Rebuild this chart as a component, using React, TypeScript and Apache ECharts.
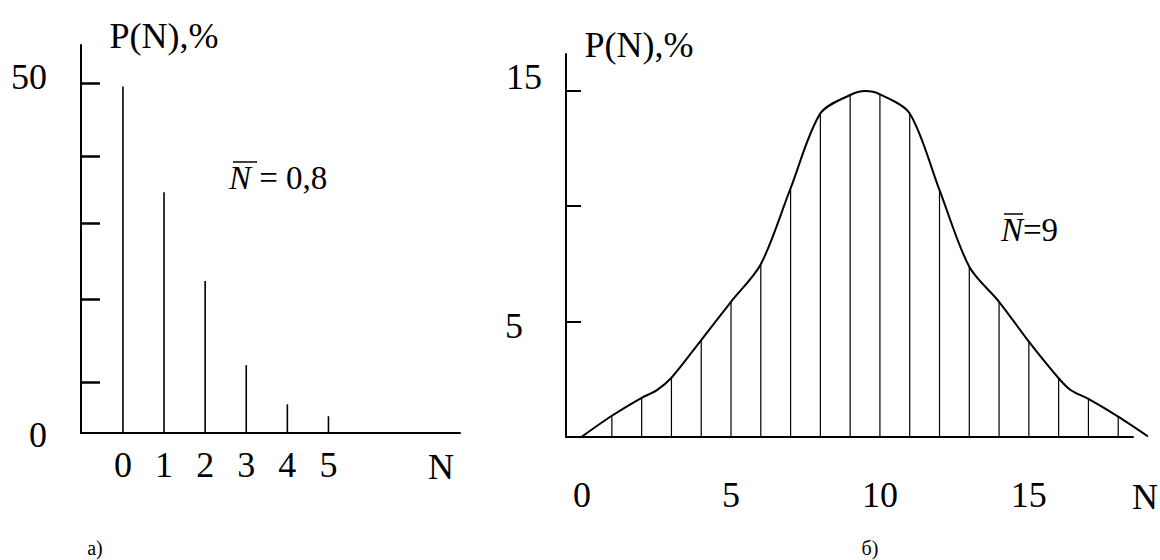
import React, { useEffect, useRef } from "react";
import * as echarts from "echarts";

// ---- Panel а) ----
const leftN = [0, 1, 2, 3, 4, 5];
const leftP = [49.5, 34.4, 21.7, 9.7, 4.1, 2.4];
const leftYTicks = [50, 39.6, 29.9, 19.1, 7.3];
const leftYLabels = [0, 50];
const leftXLabels = [0, 1, 2, 3, 4, 5];

// ---- Panel б) ----
const rightN = [0, 1, 2, 2.5, 3, 4, 5, 6, 7, 8, 9, 9.5, 10, 11, 12, 13, 14, 15, 16, 16.4, 17, 18, 19];
const rightP = [0, 0.9, 1.68, 2.0, 2.55, 4.19, 5.85, 7.48, 10.78, 14.03, 14.83, 15.0, 14.86, 14.03, 10.7, 7.37, 5.85, 4.12, 2.53, 2.02, 1.63, 0.86, 0];
const rightYTicks = [5, 10, 15];
const rightYLabels = [5, 15];
const rightXLabels = [0, 5, 10, 15];

const FONT = '"Liberation Serif", "Times New Roman", serif';
const BLACK = "#000";

export default function App() {
  const ref = useRef<HTMLDivElement>(null);

  useEffect(() => {
    if (!ref.current) return;
    const chart = echarts.init(ref.current, undefined, { renderer: "svg" });

    const leftData = leftN.map((n, i) => [n, leftP[i]]);
    const curveData = rightN.map((n, i) => [n, rightP[i]]);
    const hatchData = curveData.filter((d) => Number.isInteger(d[0]) && d[1] > 0);

    const FS = 36;
    const labelBase = { fontFamily: FONT, fontSize: FS, color: BLACK };
    const axisLineOn = { show: true, onZero: false, lineStyle: { color: BLACK, width: 2 } };

    const option: any = {
      animation: false,
      backgroundColor: "#fff",
      grid: [
        { left: 81, top: 45, width: 379, height: 388 },
        // data grid of panel б) (reaches N = 19)
        { left: 566, top: 54, width: 582, height: 382.5 },
        // axis-line grid of panel б)
        { left: 566, top: 54, width: 567, height: 382.5 },
      ],
      xAxis: [
        {
          gridIndex: 0,
          type: "value",
          min: -1.02,
          max: 8.2,
          axisLine: axisLineOn,
          axisTick: { show: false },
          splitLine: { show: false },
          axisLabel: { ...labelBase, customValues: leftXLabels, margin: 14 },
        },
        {
          gridIndex: 1,
          type: "value",
          min: -0.54,
          max: 19,
          axisLine: { show: false },
          axisTick: { show: false },
          splitLine: { show: false },
          axisLabel: { ...labelBase, customValues: rightXLabels, margin: 40 },
        },
        {
          gridIndex: 2,
          type: "value",
          min: 0,
          max: 1,
          axisLine: axisLineOn,
          axisTick: { show: false },
          splitLine: { show: false },
          axisLabel: { show: false },
        },
      ],
      yAxis: [
        {
          gridIndex: 0,
          type: "value",
          min: 0,
          max: 55.43,
          axisLine: axisLineOn,
          axisTick: {
            show: true,
            inside: true,
            length: 19,
            customValues: leftYTicks,
            lineStyle: { color: BLACK, width: 2.5 },
          },
          splitLine: { show: false },
          axisLabel: {
            ...labelBase,
            customValues: leftYLabels,
            margin: 34,
            formatter: (v: number) => (v === 50 ? "{a|50}" : "{b|0}"),
            rich: {
              a: { ...labelBase, padding: [0, 0, 12, 0] },
              b: { ...labelBase, padding: [4, 0, 0, 0] },
            },
          },
        },
        {
          gridIndex: 1,
          type: "value",
          min: 0,
          max: 16.61,
          axisLine: axisLineOn,
          axisTick: {
            show: true,
            inside: true,
            length: 15,
            customValues: rightYTicks,
            lineStyle: { color: BLACK, width: 2 },
          },
          splitLine: { show: false },
          axisLabel: {
            ...labelBase,
            customValues: rightYLabels,
            margin: 24,
            formatter: (v: number) => (v === 15 ? "{a|15}" : "{b|5}"),
            rich: {
              a: { ...labelBase, padding: [0, 0, 28, 0] },
              b: { ...labelBase, padding: [10, 19, 0, 0] },
            },
          },
        },
        {
          gridIndex: 2,
          type: "value",
          min: 0,
          max: 16.61,
          show: false,
        },
      ],
      series: [
        {
          type: "bar",
          xAxisIndex: 0,
          yAxisIndex: 0,
          data: leftData,
          barWidth: 1.6,
          itemStyle: { color: BLACK },
          silent: true,
        },
        {
          type: "bar",
          xAxisIndex: 1,
          yAxisIndex: 1,
          data: hatchData,
          barWidth: 1.2,
          itemStyle: { color: BLACK },
          silent: true,
        },
        {
          type: "line",
          xAxisIndex: 1,
          yAxisIndex: 1,
          data: curveData,
          smooth: 0.3,
          showSymbol: false,
          clip: false,
          lineStyle: { color: BLACK, width: 2 },
          silent: true,
        },
      ],
      graphic: [
        {
          type: "text",
          x: 164,
          y: 36,
          style: { text: "P(N),%", fontFamily: FONT, fontSize: FS, fill: BLACK, align: "center", verticalAlign: "middle" },
        },
        {
          type: "text",
          x: 639,
          y: 45,
          style: { text: "P(N),%", fontFamily: FONT, fontSize: FS, fill: BLACK, align: "center", verticalAlign: "middle" },
        },
        {
          type: "text",
          x: 229,
          y: 178,
          style: {
            text: "{i|N} = 0,8",
            fontFamily: FONT,
            fontSize: 33,
            fill: BLACK,
            align: "left",
            verticalAlign: "middle",
            rich: { i: { fontFamily: FONT, fontSize: 33, fontStyle: "italic", color: BLACK } },
          },
        },
        { type: "line", shape: { x1: 233, y1: 162, x2: 257, y2: 162 }, style: { stroke: BLACK, lineWidth: 1.5 } },
        {
          type: "text",
          x: 1001,
          y: 230,
          style: {
            text: "{i|N}=9",
            fontFamily: FONT,
            fontSize: 33,
            fill: BLACK,
            align: "left",
            verticalAlign: "middle",
            rich: { i: { fontFamily: FONT, fontSize: 33, fontStyle: "italic", color: BLACK } },
          },
        },
        { type: "line", shape: { x1: 1004, y1: 214, x2: 1023, y2: 214 }, style: { stroke: BLACK, lineWidth: 1.5 } },
        {
          type: "text",
          x: 441,
          y: 467,
          style: { text: "N", fontFamily: FONT, fontSize: FS, fill: BLACK, align: "center", verticalAlign: "middle" },
        },
        {
          type: "text",
          x: 1145,
          y: 497,
          style: { text: "N", fontFamily: FONT, fontSize: FS, fill: BLACK, align: "center", verticalAlign: "middle" },
        },
        {
          type: "text",
          x: 95,
          y: 548,
          style: { text: "а)", fontFamily: FONT, fontSize: 20, fill: BLACK, align: "center", verticalAlign: "middle" },
        },
        {
          type: "text",
          x: 870,
          y: 548,
          style: { text: "б)", fontFamily: FONT, fontSize: 20, fill: BLACK, align: "center", verticalAlign: "middle" },
        },
      ],
    };

    chart.setOption(option);
    return () => chart.dispose();
  }, []);

  return (
    <div
      ref={ref}
      style={{ position: "absolute", left: 0, top: 0, width: 1160, height: 560 }}
    />
  );
}
